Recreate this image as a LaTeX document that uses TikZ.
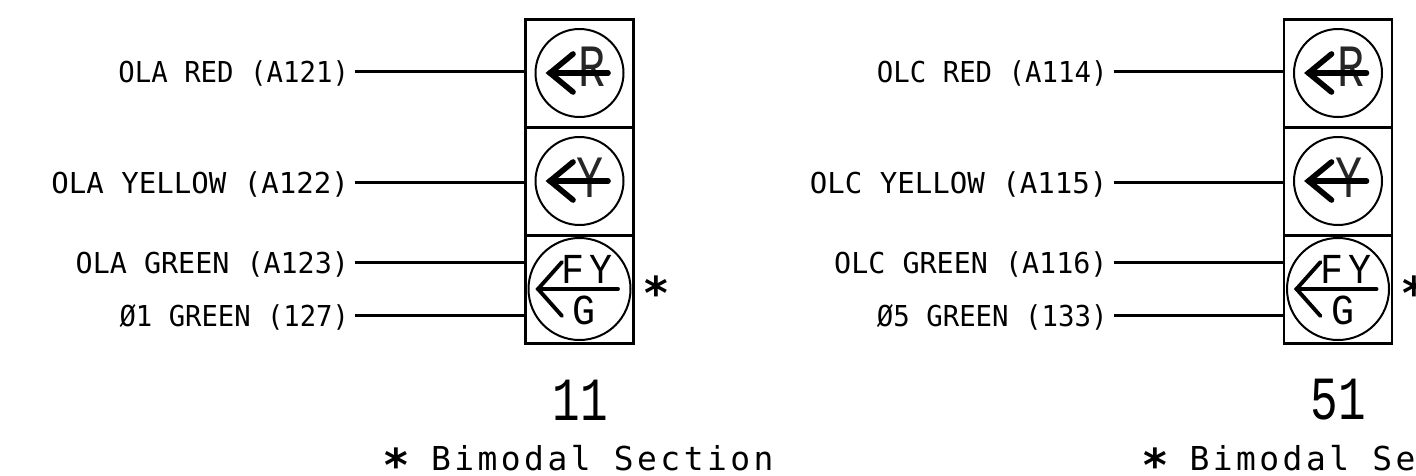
\documentclass[tikz,border=0pt]{standalone}
\usepackage{graphicx}
\usepackage{fontspec}
\newfontfamily\lblfont{DejaVu Sans Mono}
\newfontfamily\botfont[LetterSpace=10.5]{DejaVu Sans Mono}
\newfontfamily\thinfont[FakeStretch=0.75]{Liberation Mono}
\newfontfamily\midfont[FakeStretch=0.9]{Liberation Mono}
\newfontfamily\starfont{DejaVu Sans}
\newcommand{\sq}[2]{\scalebox{#1}[1]{#2}}
\tikzset{
  cellbox/.style={draw,line width=2.1pt,minimum width=81pt,minimum height=81pt,inner sep=0pt,outer sep=0pt},
  lensring/.style={draw,circle,line width=1.5pt,inner sep=0pt,outer sep=0pt},
  wirelabel/.style={anchor=east,inner ysep=0pt,inner xsep=4.5pt,outer sep=0pt,text height=15.75pt,text depth=0pt,font=\lblfont\fontsize{21.6}{24}\selectfont},
  wire/.style={line width=1.6pt},
  heavyarrow/.style={line width=4.2pt,line cap=round,line join=miter},
  lightarrow/.style={line width=2.9pt,line cap=round,line join=miter},
  biglens/.style={inner sep=0pt,outer sep=0pt,text=black!85,font=\thinfont\fontsize{45}{50}\selectfont},
  smalllens/.style={inner sep=0pt,outer sep=0pt,font=\midfont\fontsize{32}{36}\selectfont},
  headnum/.style={inner sep=0pt,outer sep=0pt,font=\thinfont\fontsize{46}{50}\selectfont},
  starmark/.style={inner sep=0pt,outer sep=0pt,font=\starfont\bfseries\fontsize{34}{36}\selectfont},
  bottomnote/.style={anchor=base west,inner sep=0pt,outer sep=0pt,font=\botfont\fontsize{24.7}{28}\selectfont}
}
\newcommand{\signalpanel}[7]{%
\begin{scope}[shift={(#2,0)}]
  \node[cellbox] (#1c1) at (579.5,73.5) {};
  \node[cellbox] (#1c2) at (579.5,181.5) {};
  \node[cellbox] (#1c3) at (579.5,289.5) {};
  \node[lensring,minimum size=66pt] (#1r1) at (579.5,73) {};
  \node[lensring,minimum size=66pt] (#1r2) at (579.5,181) {};
  \node[lensring,minimum size=76.5pt] (#1r3) at (579.5,289) {};
  \node[biglens] (#1R) at (592,67) {R};
  \node[biglens] (#1Y) at (590,178) {Y};
  \draw[heavyarrow] (573,54) -- (550,73) -- (573,92);
  \draw[heavyarrow] (550,73) -- (608,73);
  \draw[heavyarrow] (573,162) -- (550,181) -- (573,200);
  \draw[heavyarrow] (550,181) -- (608,181);
  \draw[lightarrow] (562,262) -- (538,289) -- (562,316);
  \draw[lightarrow] (538,289) -- (618,289);
  \node[smalllens] (#1F) at (573.5,269) {F};
  \node[smalllens] (#1V) at (601.5,269) {Y};
  \node[smalllens] (#1G) at (584.5,310) {G};
  \node[starmark] (#1s) at (656,293) {*};
  \node[headnum] (#1n) at (580,400) {#3};
  \node[wirelabel] (#1a) at (355,71.5) {#4};
  \node[wirelabel] (#1b) at (355,182.5) {#5};
  \node[wirelabel] (#1g) at (355,262.5) {#6};
  \node[wirelabel] (#1h) at (355,315.5) {#7};
  \draw[wire] (#1a.east) -- (#1a.east -| #1c1.west);
  \draw[wire] (#1b.east) -- (#1b.east -| #1c2.west);
  \draw[wire] (#1g.east) -- (#1g.east -| #1c3.west);
  \draw[wire] (#1h.east) -- (#1h.east -| #1c3.west);
  \node[bottomnote] (#1t) at (385,470) {\makebox[17.1pt][c]{\raisebox{-8.4pt}{\starfont\bfseries\fontsize{34}{36}\selectfont *}}\hspace{0pt} Bimodal Section};
\end{scope}}
\begin{document}
\begin{tikzpicture}[x=0.75pt,y=-0.75pt]
\useasboundingbox (0,0) rectangle (1416,475);
\clip (0,0) rectangle (1416,475);
\signalpanel{l}{0}{11}{\sq{0.95}{OLA RED (A121)}}{\sq{1.01}{OLA YELLOW (A122)}}{\sq{0.985}{OLA GREEN (A123)}}{\sq{0.945}{Ø1 GREEN (127)}}
\signalpanel{r}{758.5}{51}{\sq{0.95}{OLC RED (A114)}}{\sq{1.01}{OLC YELLOW (A115)}}{\sq{0.985}{OLC GREEN (A116)}}{\sq{0.95}{Ø5 GREEN (133)}}
\end{tikzpicture}
\end{document}
